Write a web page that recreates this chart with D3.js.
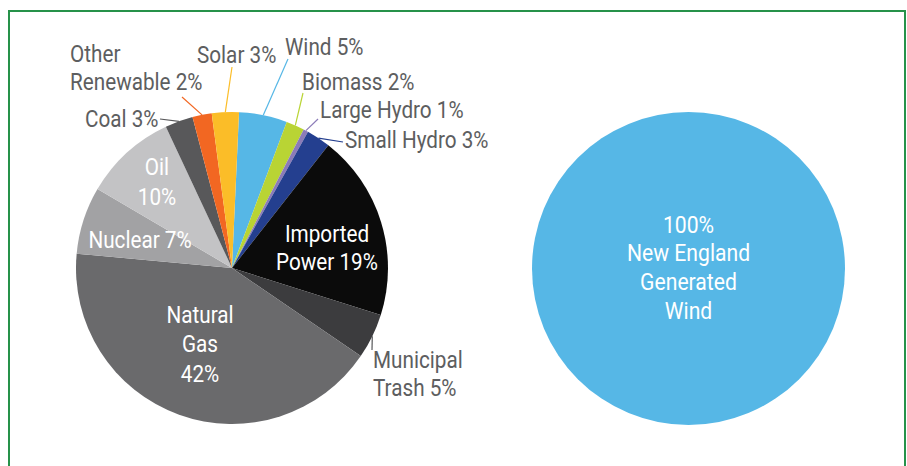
<!DOCTYPE html>
<html>
<head>
<meta charset="utf-8">
<script src="https://cdn.jsdelivr.net/npm/d3@7"></script>
<style>
  body { margin: 0; background: #fff; }
  svg { display: block; }
  text { font-family: Roboto, "Noto Sans", sans-serif; }
</style>
</head>
<body>
<div id="chart"></div>
<script>
// slices clockwise, starting just right of 12 o'clock
const sources = ["Wind", "Biomass", "Large Hydro", "Small Hydro", "Imported Power", "Municipal Trash",
                 "Natural Gas", "Nuclear", "Oil", "Coal", "Other Renewable", "Solar"];
const shares = [5, 1.9, 0.5, 2.5, 19.3, 4.7, 42, 7, 9.6, 2.9, 2, 2.8];
const labels = [["Wind 5%"], ["Biomass 2%"], ["Large Hydro 1%"], ["Small Hydro 3%"], ["Imported", "Power 19%"],
                ["Municipal", "Trash 5%"], ["Natural", "Gas", "42%"], ["Nuclear 7%"], ["Oil", "10%"],
                ["Coal 3%"], ["Other", "Renewable 2%"], ["Solar 3%"]];
const colors = ["#56b7e6", "#b9d434", "#8b7bb8", "#243f8f", "#0b0b0b", "#3c3c3e",
                "#6a6a6c", "#a2a2a4", "#c3c3c5", "#58585a", "#f26722", "#fbbd28"];
const rightShare = [100];
const rightLabel = ["100%", "New England", "Generated", "Wind"];

const width = 907, height = 466;
const squeeze = 0.9; // the original type is a narrow face
const svg = d3.select("#chart").append("svg")
  .attr("width", width).attr("height", height);

svg.append("rect")
  .attr("x", 9).attr("y", 11)
  .attr("width", 896).attr("height", 470)
  .attr("fill", "none")
  .attr("stroke", "#26924a")
  .attr("stroke-width", 2);

function block(parent, x, y, lines, lh, size, fill, anchor) {
  const t = parent.append("text")
    .attr("transform", `translate(${x},${y}) scale(${squeeze},1)`)
    .attr("text-anchor", anchor)
    .attr("fill", fill)
    .style("font-size", size + "px");
  lines.forEach((s, k) => t.append("tspan").attr("x", 0).attr("y", k * lh).text(s));
}

const r = 156;
const start = 0.045;
const pie = d3.pie().sort(null).value(d => d).startAngle(start).endAngle(start + 2 * Math.PI);
const arcs = pie(shares);
const arc = d3.arc().innerRadius(0).outerRadius(r);

const left = svg.append("g").attr("transform", "translate(232,268)");
left.selectAll("path")
  .data(arcs)
  .enter()
  .append("path")
  .attr("d", arc)
  .attr("fill", (d, i) => colors[i]);

// inside labels: [index, dx, dy of first baseline, line height]
const inside = [[4, 95, -26, 28], [6, -32, 55, 29.5], [7, -92, -20, 0], [8, -75, -93, 30]];
inside.forEach(([i, dx, dy, lh]) => block(left, dx, dy, labels[i], lh, 23, "#fff", "middle"));

// outside labels: [index, text x, first baseline, leader end (relative to centre)]
const outside = [
  [0, 285, 55, [56, -209]],
  [1, 302, 90, [71, -175]],
  [2, 320, 118, [86, -149]],
  [3, 345, 148, [111, -126]],
  [5, 373, 368, [140, 82]],
  [9, 85, 127, [-72, -149]],
  [10, 70, 62, [-50, -171]],
  [11, 197, 63, [0, -201]]
];
outside.forEach(([i, x, y, end]) => {
  const a = arcs[i];
  const mid = (a.startAngle + a.endAngle) / 2;
  const p = [Math.sin(mid) * r, -Math.cos(mid) * r];
  left.append("line")
    .attr("x1", p[0]).attr("y1", p[1])
    .attr("x2", end[0]).attr("y2", end[1])
    .attr("stroke", i === 5 ? "#58595b" : colors[i])
    .attr("stroke-width", 1.2);
  block(svg, x, y, labels[i], 28, 23, "#5d5e60", "start");
});

const right = svg.append("g").attr("transform", "translate(688.5,268.5)");
right.selectAll("path")
  .data(d3.pie().sort(null)(rightShare))
  .enter()
  .append("path")
  .attr("d", d3.arc().innerRadius(0).outerRadius(156.5))
  .attr("fill", colors[0]);

block(right, 0, -36, rightLabel, 29, 23.5, "#fff", "middle");
</script>
</body>
</html>
